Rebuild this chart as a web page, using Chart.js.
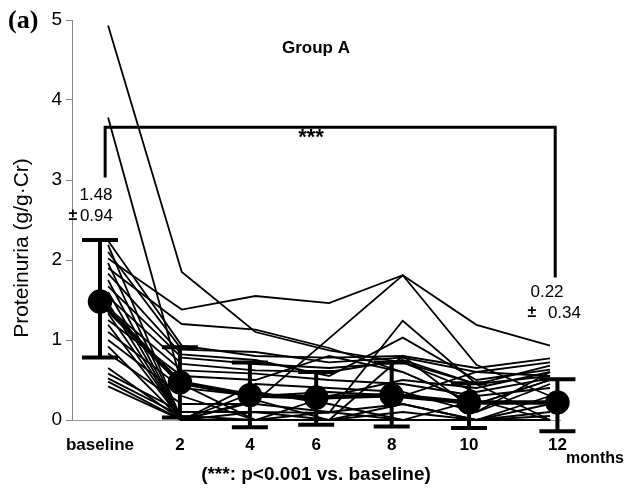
<!DOCTYPE html>
<html>
<head>
<meta charset="utf-8">
<script src="https://cdn.jsdelivr.net/npm/chart.js@4/dist/chart.umd.min.js"></script>
<style>
  body { margin: 0; background: #fff; }
  canvas { display: block; }
</style>
</head>
<body>
<canvas id="chart" width="627" height="488"></canvas>
<script>
const months = ['baseline', '2', '4', '6', '8', '10', '12']
const patientX = [0, 2, 4, 6, 8, 10, 12]
// mean markers sit slightly off the patient time points in the figure
const meanX = [-0.22, 1.95, 3.85, 5.65, 7.7, 9.8, 12.2]
const meanValues = [1.48, 0.47, 0.31, 0.28, 0.31, 0.22, 0.22]
const errHigh = [2.25, 0.91, 0.72, 0.60, 0.72, 0.46, 0.51]
const errLow = [0.78, 0.03, -0.09, -0.06, -0.08, -0.10, -0.14]
const yTicks = [0, 1, 2, 3, 4, 5]

const patients = [
    [4.93, 1.85, 1.10, 0.87, 0.72, 0.45, 0.55],
    [3.78, 0.45, 0.00, 0.10, 0.20, 0.00, 0.05],
    [2.02, 1.38, 1.55, 1.46, 1.81, 1.19, 0.93],
    [1.90, 1.20, 1.13, 0.90, 0.60, 0.20, 0.50],
    [2.24, 0.93, 0.80, 0.78, 0.80, 0.65, 0.77],
    [2.19, 0.00, 0.23, 1.02, 1.81, 0.69, 0.30],
    [2.10, 0.88, 0.85, 0.72, 0.78, 0.60, 0.72],
    [1.96, 0.00, 0.10, 0.09, 1.24, 0.45, 0.00],
    [1.83, 0.82, 0.75, 0.55, 1.03, 0.50, 0.63],
    [1.75, 0.00, 0.00, 0.30, 0.50, 0.40, 0.60],
    [1.67, 0.78, 0.70, 0.65, 0.72, 0.35, 0.52],
    [1.60, 0.00, 0.45, 0.40, 0.35, 0.10, 0.45],
    [1.54, 0.70, 0.62, 0.60, 0.75, 0.45, 0.68],
    [1.46, 0.00, 0.00, 0.00, 0.10, 0.00, 0.20],
    [1.40, 0.62, 0.58, 0.50, 0.45, 0.30, 0.40],
    [1.33, 0.00, 0.35, 0.20, 0.00, 0.00, 0.10],
    [1.25, 0.55, 0.50, 0.80, 0.60, 0.20, 0.50],
    [1.19, 0.00, 0.00, 0.00, 0.00, 0.00, 0.00],
    [1.10, 0.40, 0.30, 0.35, 0.30, 0.60, 0.55],
    [1.00, 0.30, 0.00, 0.00, 0.80, 0.10, 0.60],
    [0.92, 0.00, 0.25, 0.00, 0.20, 0.00, 0.30],
    [0.83, 0.20, 0.20, 0.10, 0.00, 0.25, 0.00],
    [0.65, 0.00, 0.00, 0.00, 0.00, 0.00, 0.00],
    [0.58, 0.10, 0.10, 0.00, 0.00, 0.00, 0.00],
    [0.52, 0.05, 0.00, 0.00, 0.00, 0.00, 0.00],
    [0.48, 0.00, 0.00, 0.00, 0.00, 0.00, 0.00],
    [0.42, 0.00, 0.00, 0.00, 0.00, 0.00, 0.00]
]

const sans = "'Liberation Sans', Arial, sans-serif"

// error bars, significance bracket and the loose text of the figure
const annotations = {
    id: 'annotations',
    afterDatasetsDraw(chart) {
        const {ctx, scales: {x, y}} = chart
        ctx.save()
        ctx.strokeStyle = '#000'
        ctx.fillStyle = '#000'

        ctx.lineWidth = 4
        meanX.forEach((mx, i) => {
            const px = x.getPixelForValue(mx)
            const top = y.getPixelForValue(errHigh[i])
            const bot = y.getPixelForValue(errLow[i])
            ctx.beginPath()
            ctx.moveTo(px, top); ctx.lineTo(px, bot)
            ctx.moveTo(px - 18, top); ctx.lineTo(px + 18, top)
            ctx.moveTo(px - 18, bot); ctx.lineTo(px + 18, bot)
            ctx.stroke()
        })

        // bracket baseline -> 12 months
        const bl = x.getPixelForValue(-0.08)
        const br = x.getPixelForValue(12.14)
        const bt = y.getPixelForValue(3.66)
        ctx.lineWidth = 3
        ctx.beginPath()
        ctx.moveTo(bl, y.getPixelForValue(3.03))
        ctx.lineTo(bl, bt)
        ctx.lineTo(br, bt)
        ctx.lineTo(br, y.getPixelForValue(1.78))
        ctx.stroke()

        ctx.textBaseline = 'middle'
        ctx.textAlign = 'center'
        ctx.font = 'bold 22px ' + sans
        ctx.fillText('***', 311, 138)
        ctx.font = 'bold 17px ' + sans
        ctx.fillText('Group A', 316, 48)
        ctx.font = '17px ' + sans
        ctx.fillText('1.48', 96, 195)
        ctx.fillText('0.22', 547, 292)
        ctx.textAlign = 'right'
        ctx.fillText('0.94', 113, 216)
        ctx.fillText('0.34', 581, 313)
        ctx.textAlign = 'center'
        ctx.font = 'bold 16px ' + sans
        ctx.fillText('±', 73, 216)
        ctx.fillText('±', 532, 313)

        ctx.fillText('months', 595, 459)

        ctx.textAlign = 'left'
        ctx.font = "bold 26px 'Liberation Serif', 'Times New Roman', serif"
        ctx.fillText('(a)', 8, 21)

        ctx.translate(22, 248)
        ctx.rotate(-Math.PI / 2)
        ctx.textAlign = 'center'
        ctx.font = '21px ' + sans
        ctx.fillText('Proteinuria (g/g\u00B7Cr)', 0, 0)
        ctx.restore()
    }
}

const datasets = [{
    label: 'mean',
    data: meanX.map((mx, i) => ({x: mx, y: meanValues[i]})),
    borderColor: '#000',
    backgroundColor: '#000',
    borderWidth: 4.5,
    pointRadius: 10,
    pointHoverRadius: 10,
    order: 0
}]
patients.forEach((vals, n) => {
    datasets.push({
        label: 'patient ' + (n + 1),
        data: patientX.map((px, i) => ({x: px, y: vals[i]})),
        borderColor: '#000',
        borderWidth: 1.8,
        pointRadius: 0,
        order: 1
    })
})

new Chart(document.querySelector('#chart'), {
    type: 'line',
    data: {datasets: datasets},
    plugins: [annotations],
    options: {
        responsive: false,
        animation: false,
        clip: false,
        layout: {padding: {top: 20, right: 67, bottom: 0, left: 0}},
        plugins: {
            legend: {display: false},
            tooltip: {enabled: false}
        },
        scales: {
            x: {
                type: 'linear',
                min: -0.98,
                max: 12.27,
                afterFit: s => { s.height = 68 },
                afterBuildTicks: s => { s.ticks = meanX.map(v => ({value: v})) },
                grid: {display: false, drawTicks: false},
                border: {display: true, color: '#999', width: 1},
                ticks: {
                    autoSkip: false,
                    maxRotation: 0,
                    padding: 15,
                    color: '#000',
                    font: {family: sans, size: 17, weight: 'bold'},
                    callback: (v, i) => months[i]
                },
                title: {
                    display: true,
                    text: '(***: p<0.001 vs. baseline)',
                    color: '#000',
                    padding: {top: 0, bottom: 2},
                    font: {family: sans, size: 19, weight: 'bold'}
                }
            },
            y: {
                min: 0,
                max: 5,
                afterFit: s => { s.width = 72 },
                afterBuildTicks: s => { s.ticks = yTicks.map(v => ({value: v})) },
                grid: {drawOnChartArea: false, drawTicks: true, tickLength: 6, color: '#888'},
                border: {display: true, color: '#888', width: 1},
                ticks: {
                    padding: 4,
                    color: '#000',
                    font: {family: sans, size: 19}
                }
            }
        }
    }
})
</script>
</body>
</html>
